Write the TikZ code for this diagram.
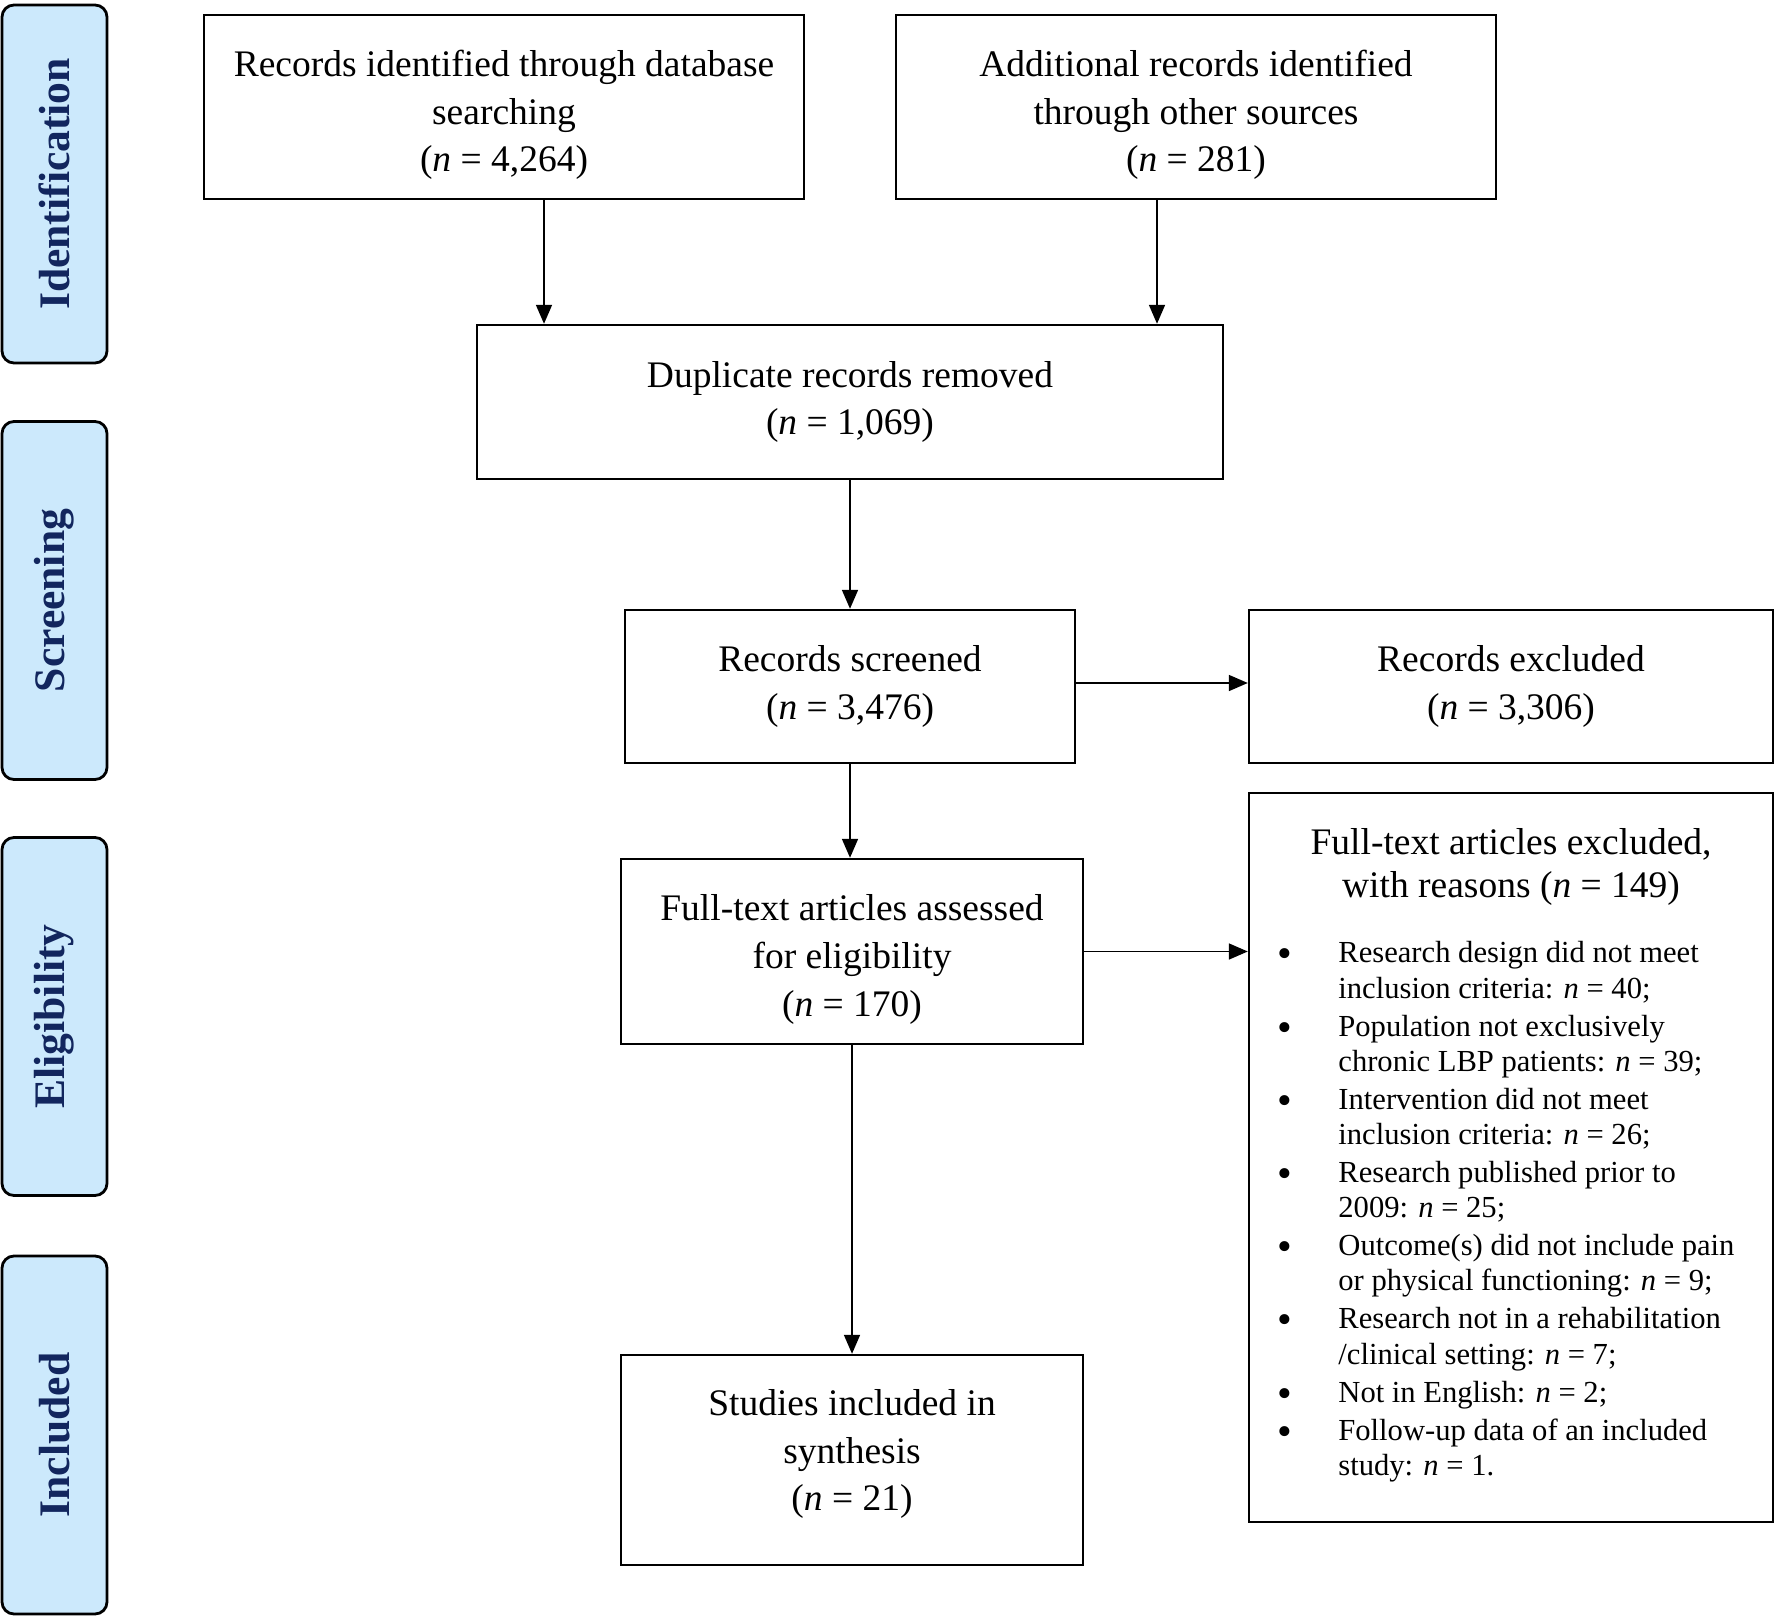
\documentclass[tikz,border=0pt]{standalone}
\usepackage{fontspec}
\setmainfont{Liberation Serif}
\usetikzlibrary{arrows.meta}
\definecolor{phasefill}{RGB}{204,233,252}
\definecolor{phasetext}{RGB}{18,38,94}
\newcommand{\bul}{\raisebox{-2.5pt}{\fontsize{21}{17}\selectfont\textbullet}}
\begin{document}
\begin{tikzpicture}[x=0.5pt,y=-0.5pt,
  box/.style={draw, line width=1.2pt, inner sep=0pt},
  txt/.style={align=center, inner sep=0pt, font=\fontsize{18.75}{23.8}\selectfont},
  phase/.style={draw, line width=1.4pt, rounded corners=6pt, fill=phasefill,
    text=phasetext, font=\bfseries\fontsize{21.8}{26}\selectfont, rotate=90,
    minimum width=179pt, minimum height=52.5pt, inner sep=0pt},
  arr/.style={line width=0.85pt, -{Triangle[length=9.5pt,width=8pt]}}]
\fill[white] (0,0) rectangle (1776,1620);
\useasboundingbox (0,0) rectangle (1776,1620);

% phase labels
\node[phase] (p1) at (54.5,184) {Identification};
\node[phase] (p2) at (54.5,600.5) {Screening};
\node[phase] (p3) at (54.5,1016.5) {Eligibility};
\node[phase] (p4) at (54.5,1435) {Included};

% boxes
\node[box, minimum width=300pt, minimum height=92pt] (db) at (504,107) {};
\node[txt] (dbt) at (504,115)
  {Records identified through database\\searching\\(\textit{n} = 4,264)};
\node[box, minimum width=300pt, minimum height=92pt] (add) at (1196,107) {};
\node[txt] (addt) at (1196,115)
  {Additional records identified\\through other sources\\(\textit{n} = 281)};
\node[box, minimum width=373pt, minimum height=77pt] (dup) at (850,402) {};
\node[txt] (dupt) at (850,402)
  {Duplicate records removed\\(\textit{n} = 1,069)};
\node[box, minimum width=225pt, minimum height=76.5pt] (scr) at (850,686.5) {};
\node[txt] (scrt) at (850,686.5)
  {Records screened\\(\textit{n} = 3,476)};
\node[box, minimum width=262pt, minimum height=76.5pt] (exc) at (1511,686.5) {};
\node[txt] (exct) at (1511,686.5)
  {Records excluded\\(\textit{n} = 3,306)};
\node[box, minimum width=231pt, minimum height=92.5pt] (ft) at (852,951.5) {};
\node[txt] (ftt) at (852,959.5)
  {Full-text articles assessed\\for eligibility\\(\textit{n} = 170)};
\node[box, minimum width=262pt, minimum height=364.5pt] (ftx) at (1511,1157.5) {};
\node[box, minimum width=231pt, minimum height=105pt] (inc) at (852,1460) {};
\node[txt] (inct) at (852,1454)
  {Studies included in\\synthesis\\(\textit{n} = 21)};

% contents of the exclusion box
\node[align=center, inner sep=0pt, font=\fontsize{18.75}{21.5}\selectfont] (fth) at (1511,867)
  {Full-text articles excluded,\\with reasons (\textit{n} = 149)};
\node[anchor=north west, inner sep=0pt, font=\fontsize{15.3}{17.55}\selectfont] (ftl) at (1277,938)
  {\begin{tabular}{@{}p{30.5pt}@{}l@{}}
  \bul & Research design did not meet\\
   & inclusion criteria: \textit{n} = 40;\\[1.5pt]
  \bul & Population not exclusively\\
   & chronic LBP patients: \textit{n} = 39;\\[1.5pt]
  \bul & Intervention did not meet\\
   & inclusion criteria: \textit{n} = 26;\\[1.5pt]
  \bul & Research published prior to\\
   & 2009: \textit{n} = 25;\\[1.5pt]
  \bul & Outcome(s) did not include pain\\
   & or physical functioning: \textit{n} = 9;\\[1.5pt]
  \bul & Research not in a rehabilitation\\
   & /clinical setting: \textit{n} = 7;\\[1.5pt]
  \bul & Not in English: \textit{n} = 2;\\[1.5pt]
  \bul & Follow-up data of an included\\
   & study: \textit{n} = 1.
  \end{tabular}};

% connectors
\draw[arr] ([xshift=20pt]db.south) coordinate (a1) -- (a1 |- dup.north);
\draw[arr] ([xshift=-19.5pt]add.south) coordinate (a2) -- (a2 |- dup.north);
\draw[arr] (dup.south) -- (dup.south |- scr.north);
\draw[arr] ([yshift=1.75pt]scr.east) coordinate (a3) -- (a3 -| exc.west);
\draw[arr] (scr.south) -- (scr.south |- ft.north);
\draw[arr] (ft.east) -- (ft.east -| ftx.west);
\draw[arr] (ft.south) -- (inc.north);
\end{tikzpicture}
\end{document}
